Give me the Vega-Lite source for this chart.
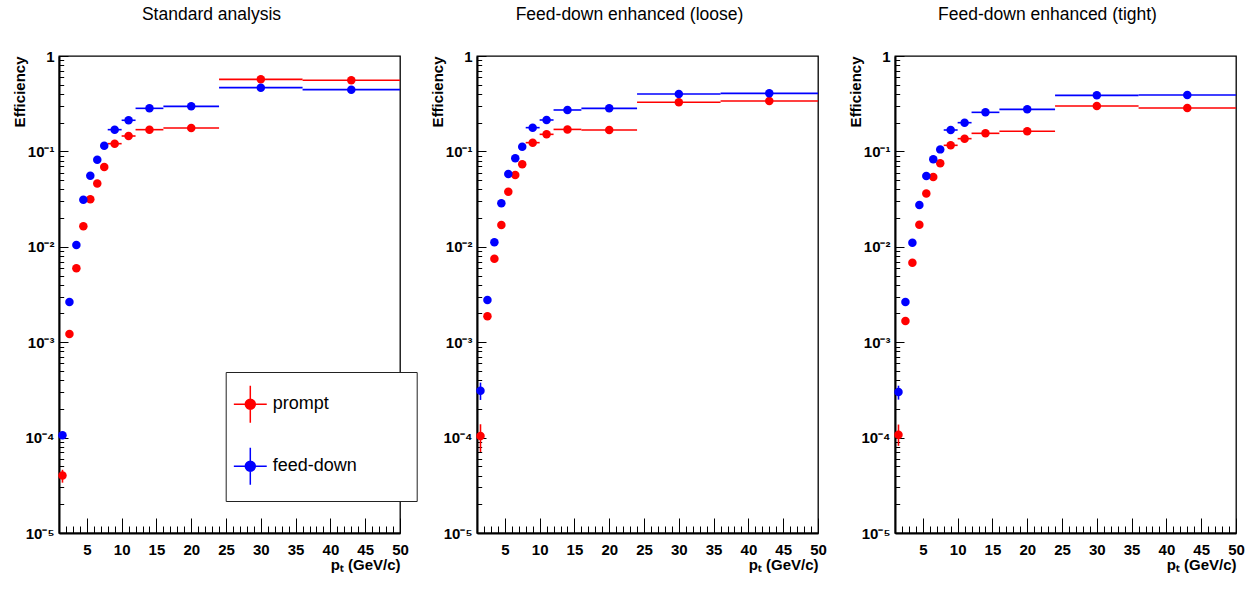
{
  "$schema": "https://vega.github.io/schema/vega-lite/v6.json",
  "padding": {"left": 11, "top": 4, "right": 0, "bottom": 0},
  "bounds": "flush",
  "spacing": 77,
  "config": {
    "font": "Liberation Sans",
    "view": {"stroke": "black", "strokeWidth": 1.3},
    "axis": {"domainColor": "black", "domainWidth": 2, "tickColor": "black", "tickWidth": 1, "tickOpacity": 1, "labelFont": "Liberation Sans", "labelFontWeight": "bold", "labelFontSize": 15, "labelColor": "black", "titleFont": "Liberation Sans", "titleFontWeight": "bold", "titleFontSize": 15, "titleColor": "black", "grid": false, "labelOverlap": false, "labelFlush": false},
    "title": {"font": "Liberation Sans", "fontSize": 17.5, "fontWeight": "normal", "color": "black", "offset": 26, "baseline": "alphabetic", "dx": -18}
  },
  "resolve": {"scale": {"color": "shared"}, "legend": {"color": "shared"}},
  "datasets": {
    "eff": [
      {"panel": "std", "type": "prompt", "x": 1.5, "xlo": 1, "xhi": 2, "y": 4.0e-5, "ylo": 3.37e-5, "yhi": 4.6e-5},
      {"panel": "std", "type": "prompt", "x": 2.5, "xlo": 2, "xhi": 3, "y": 1.22e-3, "ylo": 1.15e-3, "yhi": 1.3e-3},
      {"panel": "std", "type": "prompt", "x": 3.5, "xlo": 3, "xhi": 4, "y": 5.95e-3},
      {"panel": "std", "type": "prompt", "x": 4.5, "xlo": 4, "xhi": 5, "y": 0.0164},
      {"panel": "std", "type": "prompt", "x": 5.5, "xlo": 5, "xhi": 6, "y": 0.0315},
      {"panel": "std", "type": "prompt", "x": 6.5, "xlo": 6, "xhi": 7, "y": 0.0462},
      {"panel": "std", "type": "prompt", "x": 7.5, "xlo": 7, "xhi": 8, "y": 0.0687},
      {"panel": "std", "type": "prompt", "x": 9, "xlo": 8, "xhi": 10, "y": 0.1205},
      {"panel": "std", "type": "prompt", "x": 11, "xlo": 10, "xhi": 12, "y": 0.145},
      {"panel": "std", "type": "prompt", "x": 14, "xlo": 12, "xhi": 16, "y": 0.169},
      {"panel": "std", "type": "prompt", "x": 20, "xlo": 16, "xhi": 24, "y": 0.176},
      {"panel": "std", "type": "prompt", "x": 30, "xlo": 24, "xhi": 36, "y": 0.569},
      {"panel": "std", "type": "prompt", "x": 43, "xlo": 36, "xhi": 50, "y": 0.556},
      {"panel": "std", "type": "feed-down", "x": 1.5, "xlo": 1, "xhi": 2, "y": 1.06e-4, "ylo": 1.0e-4, "yhi": 1.13e-4},
      {"panel": "std", "type": "feed-down", "x": 2.5, "xlo": 2, "xhi": 3, "y": 2.64e-3},
      {"panel": "std", "type": "feed-down", "x": 3.5, "xlo": 3, "xhi": 4, "y": 0.01044},
      {"panel": "std", "type": "feed-down", "x": 4.5, "xlo": 4, "xhi": 5, "y": 0.0312},
      {"panel": "std", "type": "feed-down", "x": 5.5, "xlo": 5, "xhi": 6, "y": 0.0557},
      {"panel": "std", "type": "feed-down", "x": 6.5, "xlo": 6, "xhi": 7, "y": 0.0819},
      {"panel": "std", "type": "feed-down", "x": 7.5, "xlo": 7, "xhi": 8, "y": 0.1148},
      {"panel": "std", "type": "feed-down", "x": 9, "xlo": 8, "xhi": 10, "y": 0.169},
      {"panel": "std", "type": "feed-down", "x": 11, "xlo": 10, "xhi": 12, "y": 0.212},
      {"panel": "std", "type": "feed-down", "x": 14, "xlo": 12, "xhi": 16, "y": 0.2827},
      {"panel": "std", "type": "feed-down", "x": 20, "xlo": 16, "xhi": 24, "y": 0.2968},
      {"panel": "std", "type": "feed-down", "x": 30, "xlo": 24, "xhi": 36, "y": 0.466},
      {"panel": "std", "type": "feed-down", "x": 43, "xlo": 36, "xhi": 50, "y": 0.444},
      {"panel": "loose", "type": "prompt", "x": 1.5, "xlo": 1, "xhi": 2, "y": 1.04e-4, "ylo": 7.06e-5, "yhi": 1.38e-4},
      {"panel": "loose", "type": "prompt", "x": 2.5, "xlo": 2, "xhi": 3, "y": 1.87e-3, "ylo": 1.75e-3, "yhi": 2.0e-3},
      {"panel": "loose", "type": "prompt", "x": 3.5, "xlo": 3, "xhi": 4, "y": 7.5e-3},
      {"panel": "loose", "type": "prompt", "x": 4.5, "xlo": 4, "xhi": 5, "y": 0.0169},
      {"panel": "loose", "type": "prompt", "x": 5.5, "xlo": 5, "xhi": 6, "y": 0.0378},
      {"panel": "loose", "type": "prompt", "x": 6.5, "xlo": 6, "xhi": 7, "y": 0.0566},
      {"panel": "loose", "type": "prompt", "x": 7.5, "xlo": 7, "xhi": 8, "y": 0.0732},
      {"panel": "loose", "type": "prompt", "x": 9, "xlo": 8, "xhi": 10, "y": 0.1235},
      {"panel": "loose", "type": "prompt", "x": 11, "xlo": 10, "xhi": 12, "y": 0.151},
      {"panel": "loose", "type": "prompt", "x": 14, "xlo": 12, "xhi": 16, "y": 0.170},
      {"panel": "loose", "type": "prompt", "x": 20, "xlo": 16, "xhi": 24, "y": 0.1676},
      {"panel": "loose", "type": "prompt", "x": 30, "xlo": 24, "xhi": 36, "y": 0.327},
      {"panel": "loose", "type": "prompt", "x": 43, "xlo": 36, "xhi": 50, "y": 0.3375},
      {"panel": "loose", "type": "feed-down", "x": 1.5, "xlo": 1, "xhi": 2, "y": 3.1e-4, "ylo": 2.48e-4, "yhi": 3.77e-4},
      {"panel": "loose", "type": "feed-down", "x": 2.5, "xlo": 2, "xhi": 3, "y": 2.77e-3},
      {"panel": "loose", "type": "feed-down", "x": 3.5, "xlo": 3, "xhi": 4, "y": 0.01114},
      {"panel": "loose", "type": "feed-down", "x": 4.5, "xlo": 4, "xhi": 5, "y": 0.0286},
      {"panel": "loose", "type": "feed-down", "x": 5.5, "xlo": 5, "xhi": 6, "y": 0.058},
      {"panel": "loose", "type": "feed-down", "x": 6.5, "xlo": 6, "xhi": 7, "y": 0.0846},
      {"panel": "loose", "type": "feed-down", "x": 7.5, "xlo": 7, "xhi": 8, "y": 0.112},
      {"panel": "loose", "type": "feed-down", "x": 9, "xlo": 8, "xhi": 10, "y": 0.1774},
      {"panel": "loose", "type": "feed-down", "x": 11, "xlo": 10, "xhi": 12, "y": 0.2134},
      {"panel": "loose", "type": "feed-down", "x": 14, "xlo": 12, "xhi": 16, "y": 0.2717},
      {"panel": "loose", "type": "feed-down", "x": 20, "xlo": 16, "xhi": 24, "y": 0.2827},
      {"panel": "loose", "type": "feed-down", "x": 30, "xlo": 24, "xhi": 36, "y": 0.3995},
      {"panel": "loose", "type": "feed-down", "x": 43, "xlo": 36, "xhi": 50, "y": 0.406},
      {"panel": "tight", "type": "prompt", "x": 1.5, "xlo": 1, "xhi": 2, "y": 1.07e-4, "ylo": 8.2e-5, "yhi": 1.37e-4},
      {"panel": "tight", "type": "prompt", "x": 2.5, "xlo": 2, "xhi": 3, "y": 1.67e-3, "ylo": 1.57e-3, "yhi": 1.78e-3},
      {"panel": "tight", "type": "prompt", "x": 3.5, "xlo": 3, "xhi": 4, "y": 6.82e-3},
      {"panel": "tight", "type": "prompt", "x": 4.5, "xlo": 4, "xhi": 5, "y": 0.01706},
      {"panel": "tight", "type": "prompt", "x": 5.5, "xlo": 5, "xhi": 6, "y": 0.0363},
      {"panel": "tight", "type": "prompt", "x": 6.5, "xlo": 6, "xhi": 7, "y": 0.0539},
      {"panel": "tight", "type": "prompt", "x": 7.5, "xlo": 7, "xhi": 8, "y": 0.075},
      {"panel": "tight", "type": "prompt", "x": 9, "xlo": 8, "xhi": 10, "y": 0.1158},
      {"panel": "tight", "type": "prompt", "x": 11, "xlo": 10, "xhi": 12, "y": 0.136},
      {"panel": "tight", "type": "prompt", "x": 14, "xlo": 12, "xhi": 16, "y": 0.1547},
      {"panel": "tight", "type": "prompt", "x": 20, "xlo": 16, "xhi": 24, "y": 0.1624},
      {"panel": "tight", "type": "prompt", "x": 30, "xlo": 24, "xhi": 36, "y": 0.299},
      {"panel": "tight", "type": "prompt", "x": 43, "xlo": 36, "xhi": 50, "y": 0.285},
      {"panel": "tight", "type": "feed-down", "x": 1.5, "xlo": 1, "xhi": 2, "y": 3.0e-4, "ylo": 2.5e-4, "yhi": 3.5e-4},
      {"panel": "tight", "type": "feed-down", "x": 2.5, "xlo": 2, "xhi": 3, "y": 2.64e-3},
      {"panel": "tight", "type": "feed-down", "x": 3.5, "xlo": 3, "xhi": 4, "y": 0.01105},
      {"panel": "tight", "type": "feed-down", "x": 4.5, "xlo": 4, "xhi": 5, "y": 0.0274},
      {"panel": "tight", "type": "feed-down", "x": 5.5, "xlo": 5, "xhi": 6, "y": 0.0552},
      {"panel": "tight", "type": "feed-down", "x": 6.5, "xlo": 6, "xhi": 7, "y": 0.0826},
      {"panel": "tight", "type": "feed-down", "x": 7.5, "xlo": 7, "xhi": 8, "y": 0.105},
      {"panel": "tight", "type": "feed-down", "x": 9, "xlo": 8, "xhi": 10, "y": 0.1676},
      {"panel": "tight", "type": "feed-down", "x": 11, "xlo": 10, "xhi": 12, "y": 0.200},
      {"panel": "tight", "type": "feed-down", "x": 14, "xlo": 12, "xhi": 16, "y": 0.2567},
      {"panel": "tight", "type": "feed-down", "x": 20, "xlo": 16, "xhi": 24, "y": 0.276},
      {"panel": "tight", "type": "feed-down", "x": 30, "xlo": 24, "xhi": 36, "y": 0.387},
      {"panel": "tight", "type": "feed-down", "x": 43, "xlo": 36, "xhi": 50, "y": 0.390}
    ]
  },
  "data": {"name": "eff"},
  "hconcat": [
    {
      "width": 341, "height": 477,
      "title": {"text": "Standard analysis"},
      "transform": [{"filter": "datum.panel === 'std'"}],
      "resolve": {"axis": {"x": "independent", "y": "independent"}},
      "encoding": {
        "color": {"field": "type", "type": "nominal", "scale": {"domain": ["prompt", "feed-down"], "range": ["#ff0000", "#0000ff"]},
                  "legend": {"orient": "none", "legendX": 166.7, "legendY": 316, "title": null, "symbolType": "M-0.27,0 A0.27,0.27 0 1,0 0.27,0 A0.27,0.27 0 1,0 -0.27,0 Z M-0.89,0 L0.89,0 M0,-1 L0,1 M8.1,0 L8.1,0", "symbolSize": 1369, "symbolStrokeWidth": 1.5, "symbolOpacity": 1, "symbolOffset": -7.7, "labelFontSize": 18, "labelFont": "Liberation Sans", "labelColor": "black", "labelOffset": 3, "padding": 12.8, "rowPadding": 19, "strokeColor": "#222222", "fillColor": "white",
                             "encode": {"symbols": {"update": {"stroke": {"scale": "color", "field": "value"}, "fill": {"scale": "color", "field": "value"}}}}}}
      },
      "layer": [
        {"mark": {"type": "rule", "strokeWidth": 1.6},
         "encoding": {
           "x": {"field": "xlo", "type": "quantitative", "scale": {"domain": [1, 50], "nice": false, "zero": false},
                 "axis": {"orient": "bottom", "title": "pₜ (GeV/c)", "titleAnchor": "end", "titlePadding": 0, "titleFontSize": 15, "labelFontSize": 15, "labelOverlap": false, "values": [5,10,15,20,25,30,35,40,45,50], "format": "d", "tickCount": 100, "ticks": false, "labelPadding": 9}},
           "x2": {"field": "xhi"},
           "y": {"field": "y", "type": "quantitative", "scale": {"type": "log", "domain": [1e-5, 1], "nice": false},
                 "axis": {"orient": "left", "title": "Efficiency", "titleAnchor": "end", "titlePadding": -2.5, "titleFontSize": 15, "labelFontSize": 15, "labelOverlap": false, "values": [1e-5,1e-4,1e-3,0.01,0.1,1], "tickCount": 100, "ticks": false, "labelExpr": "datum.value > 0.99 ? '1' : '10⁻' + ['','¹','²','³','⁴','⁵'][-round(log(datum.value)/LN10)]", "labelPadding": 5}}
         }},
        {"mark": {"type": "rule", "strokeWidth": 1.6},
         "encoding": {
           "x": {"field": "x", "type": "quantitative", "axis": null},
           "y": {"field": "ylo", "type": "quantitative", "axis": null},
           "y2": {"field": "yhi"}
         }},
        {"mark": {"type": "point", "filled": true, "shape": "circle", "size": 72, "opacity": 1},
         "encoding": {
           "x": {"field": "x", "type": "quantitative",
                 "axis": {"orient": "top", "offset": -477, "title": null, "labels": false, "domain": false, "values": [1,2,3,4,5,6,7,8,9,10,11,12,13,14,15,16,17,18,19,20,21,22,23,24,25,26,27,28,29,30,31,32,33,34,35,36,37,38,39,40,41,42,43,44,45,46,47,48,49,50], "tickCount": 100, "tickSize": {"condition": {"test": "datum.value % 5 === 0", "value": 15}, "value": 7}}},
           "y": {"field": "y", "type": "quantitative",
                 "axis": {"orient": "right", "offset": -341, "title": null, "labels": false, "domain": false, "values": [1e-5,2e-5,3e-5,4e-5,5e-5,6e-5,7e-5,8e-5,9e-5,1e-4,2e-4,3e-4,4e-4,5e-4,6e-4,7e-4,8e-4,9e-4,1e-3,2e-3,3e-3,4e-3,5e-3,6e-3,7e-3,8e-3,9e-3,0.01,0.02,0.03,0.04,0.05,0.06,0.07,0.08,0.09,0.1,0.2,0.3,0.4,0.5,0.6,0.7,0.8,0.9,1], "tickCount": 100, "tickSize": {"condition": {"test": "abs(log(datum.value)/LN10 - round(log(datum.value)/LN10)) < 0.001", "value": 9}, "value": 4.7}}}
         }}
      ]
    },
    {
      "width": 341, "height": 477,
      "title": {"text": "Feed-down enhanced (loose)"},
      "transform": [{"filter": "datum.panel === 'loose'"}],
      "resolve": {"axis": {"x": "independent", "y": "independent"}},
      "encoding": {
        "color": {"field": "type", "type": "nominal", "scale": {"domain": ["prompt", "feed-down"], "range": ["#ff0000", "#0000ff"]}}
      },
      "layer": [
        {"mark": {"type": "rule", "strokeWidth": 1.6},
         "encoding": {
           "x": {"field": "xlo", "type": "quantitative", "scale": {"domain": [1, 50], "nice": false, "zero": false},
                 "axis": {"orient": "bottom", "title": "pₜ (GeV/c)", "titleAnchor": "end", "titlePadding": 0, "titleFontSize": 15, "labelFontSize": 15, "labelOverlap": false, "values": [5,10,15,20,25,30,35,40,45,50], "format": "d", "tickCount": 100, "ticks": false, "labelPadding": 9}},
           "x2": {"field": "xhi"},
           "y": {"field": "y", "type": "quantitative", "scale": {"type": "log", "domain": [1e-5, 1], "nice": false},
                 "axis": {"orient": "left", "title": "Efficiency", "titleAnchor": "end", "titlePadding": -2.5, "titleFontSize": 15, "labelFontSize": 15, "labelOverlap": false, "values": [1e-5,1e-4,1e-3,0.01,0.1,1], "tickCount": 100, "ticks": false, "labelExpr": "datum.value > 0.99 ? '1' : '10⁻' + ['','¹','²','³','⁴','⁵'][-round(log(datum.value)/LN10)]", "labelPadding": 5}}
         }},
        {"mark": {"type": "rule", "strokeWidth": 1.6},
         "encoding": {
           "x": {"field": "x", "type": "quantitative", "axis": null},
           "y": {"field": "ylo", "type": "quantitative", "axis": null},
           "y2": {"field": "yhi"}
         }},
        {"mark": {"type": "point", "filled": true, "shape": "circle", "size": 72, "opacity": 1},
         "encoding": {
           "x": {"field": "x", "type": "quantitative",
                 "axis": {"orient": "top", "offset": -477, "title": null, "labels": false, "domain": false, "values": [1,2,3,4,5,6,7,8,9,10,11,12,13,14,15,16,17,18,19,20,21,22,23,24,25,26,27,28,29,30,31,32,33,34,35,36,37,38,39,40,41,42,43,44,45,46,47,48,49,50], "tickCount": 100, "tickSize": {"condition": {"test": "datum.value % 5 === 0", "value": 15}, "value": 7}}},
           "y": {"field": "y", "type": "quantitative",
                 "axis": {"orient": "right", "offset": -341, "title": null, "labels": false, "domain": false, "values": [1e-5,2e-5,3e-5,4e-5,5e-5,6e-5,7e-5,8e-5,9e-5,1e-4,2e-4,3e-4,4e-4,5e-4,6e-4,7e-4,8e-4,9e-4,1e-3,2e-3,3e-3,4e-3,5e-3,6e-3,7e-3,8e-3,9e-3,0.01,0.02,0.03,0.04,0.05,0.06,0.07,0.08,0.09,0.1,0.2,0.3,0.4,0.5,0.6,0.7,0.8,0.9,1], "tickCount": 100, "tickSize": {"condition": {"test": "abs(log(datum.value)/LN10 - round(log(datum.value)/LN10)) < 0.001", "value": 9}, "value": 4.7}}}
         }}
      ]
    },
    {
      "width": 341, "height": 477,
      "title": {"text": "Feed-down enhanced (tight)"},
      "transform": [{"filter": "datum.panel === 'tight'"}],
      "resolve": {"axis": {"x": "independent", "y": "independent"}},
      "encoding": {
        "color": {"field": "type", "type": "nominal", "scale": {"domain": ["prompt", "feed-down"], "range": ["#ff0000", "#0000ff"]}}
      },
      "layer": [
        {"mark": {"type": "rule", "strokeWidth": 1.6},
         "encoding": {
           "x": {"field": "xlo", "type": "quantitative", "scale": {"domain": [1, 50], "nice": false, "zero": false},
                 "axis": {"orient": "bottom", "title": "pₜ (GeV/c)", "titleAnchor": "end", "titlePadding": 0, "titleFontSize": 15, "labelFontSize": 15, "labelOverlap": false, "values": [5,10,15,20,25,30,35,40,45,50], "format": "d", "tickCount": 100, "ticks": false, "labelPadding": 9}},
           "x2": {"field": "xhi"},
           "y": {"field": "y", "type": "quantitative", "scale": {"type": "log", "domain": [1e-5, 1], "nice": false},
                 "axis": {"orient": "left", "title": "Efficiency", "titleAnchor": "end", "titlePadding": -2.5, "titleFontSize": 15, "labelFontSize": 15, "labelOverlap": false, "values": [1e-5,1e-4,1e-3,0.01,0.1,1], "tickCount": 100, "ticks": false, "labelExpr": "datum.value > 0.99 ? '1' : '10⁻' + ['','¹','²','³','⁴','⁵'][-round(log(datum.value)/LN10)]", "labelPadding": 5}}
         }},
        {"mark": {"type": "rule", "strokeWidth": 1.6},
         "encoding": {
           "x": {"field": "x", "type": "quantitative", "axis": null},
           "y": {"field": "ylo", "type": "quantitative", "axis": null},
           "y2": {"field": "yhi"}
         }},
        {"mark": {"type": "point", "filled": true, "shape": "circle", "size": 72, "opacity": 1},
         "encoding": {
           "x": {"field": "x", "type": "quantitative",
                 "axis": {"orient": "top", "offset": -477, "title": null, "labels": false, "domain": false, "values": [1,2,3,4,5,6,7,8,9,10,11,12,13,14,15,16,17,18,19,20,21,22,23,24,25,26,27,28,29,30,31,32,33,34,35,36,37,38,39,40,41,42,43,44,45,46,47,48,49,50], "tickCount": 100, "tickSize": {"condition": {"test": "datum.value % 5 === 0", "value": 15}, "value": 7}}},
           "y": {"field": "y", "type": "quantitative",
                 "axis": {"orient": "right", "offset": -341, "title": null, "labels": false, "domain": false, "values": [1e-5,2e-5,3e-5,4e-5,5e-5,6e-5,7e-5,8e-5,9e-5,1e-4,2e-4,3e-4,4e-4,5e-4,6e-4,7e-4,8e-4,9e-4,1e-3,2e-3,3e-3,4e-3,5e-3,6e-3,7e-3,8e-3,9e-3,0.01,0.02,0.03,0.04,0.05,0.06,0.07,0.08,0.09,0.1,0.2,0.3,0.4,0.5,0.6,0.7,0.8,0.9,1], "tickCount": 100, "tickSize": {"condition": {"test": "abs(log(datum.value)/LN10 - round(log(datum.value)/LN10)) < 0.001", "value": 9}, "value": 4.7}}}
         }}
      ]
    }
  ]
}
